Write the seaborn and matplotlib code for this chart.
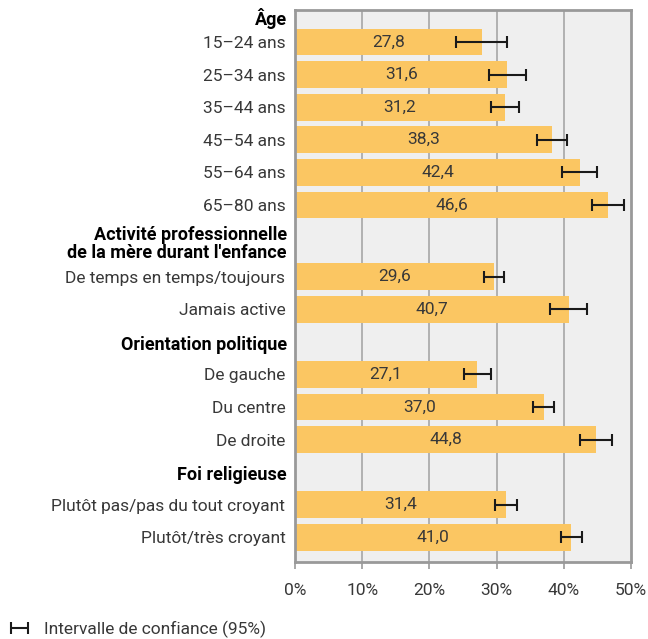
import numpy as np
import pandas as pd
import matplotlib
matplotlib.use('Agg')
import matplotlib.pyplot as plt
import matplotlib.transforms as mtransforms
import seaborn as sns

# data
groups = ['Âge',
          'Activité professionnelle\nde la mère durant l\'enfance',
          'Orientation politique',
          'Foi religieuse']
labels = [
    ['15–24 ans', '25–34 ans', '35–44 ans', '45–54 ans', '55–64 ans', '65–80 ans'],
    ['De temps en temps/toujours', 'Jamais active'],
    ['De gauche', 'Du centre', 'De droite'],
    ['Plutôt pas/pas du tout croyant', 'Plutôt/très croyant'],
]
values = [
    [27.8, 31.6, 31.2, 38.3, 42.4, 46.6],
    [29.6, 40.7],
    [27.1, 37.0, 44.8],
    [31.4, 41.0],
]
ci_low = [
    [24.0, 28.8, 29.1, 36.0, 39.8, 44.2],
    [28.1, 37.9],
    [25.1, 35.4, 42.4],
    [29.8, 39.6],
]
ci_high = [
    [31.5, 34.4, 33.3, 40.5, 45.0, 49.0],
    [31.1, 43.4],
    [29.1, 38.6, 47.2],
    [33.1, 42.7],
]
xticks = [0, 10, 20, 30, 40, 50]
legend_label = 'Intervalle de confiance (95%)'

# layout of rows (header rows + bar rows)
rows = []
header_pos = []
pos = 1.0
for gi, (g, labs, vals, lo, hi) in enumerate(zip(groups, labels, values, ci_low, ci_high)):
    extra = 0.1 * g.count('\n')
    if gi == 0:
        header_pos.append(0.28)
    else:
        header_pos.append(pos + 0.1 + extra)
        pos += 1.0 + 2 * extra
    for lab, v, l, h in zip(labs, vals, lo, hi):
        rows.append({'pos': round(pos, 3), 'label': lab, 'value': v, 'lo': l, 'hi': h})
        pos += 1.0
df = pd.DataFrame(rows)
ymax = df['pos'].max() + 0.76

sns.set_style('white')
plt.rcParams['font.family'] = ['Roboto', 'DejaVu Sans']
txt = '#383838'

fig = plt.figure(figsize=(6.48, 6.39), dpi=100)
ax = fig.add_axes([295 / 648, 1 - 562 / 639, 336 / 648, 552.5 / 639])
ax.set_facecolor('#efefef')

for x in xticks[1:-1]:
    ax.axvline(x, color='#a6a6a6', lw=1.2, zorder=0)

sns.barplot(data=df, x='value', y='pos', orient='y', native_scale=True,
            width=0.82, color='#fbc662', saturation=1, errorbar=None,
            linewidth=0, edgecolor='none', ax=ax, zorder=2)

eb = ax.errorbar(df['value'], df['pos'],
                 xerr=[df['value'] - df['lo'], df['hi'] - df['value']],
                 fmt='none', ecolor='#1a1a1a', elinewidth=1.5, capsize=4.5,
                 capthick=1.5, zorder=3)

for _, r in df.iterrows():
    ax.text(r['value'] / 2, r['pos'], f"{r['value']:.1f}".replace('.', ','),
            ha='center', va='center', fontsize=12.5, color=txt, zorder=4)

ax.set_xlim(0, 50)
ax.set_ylim(ymax, 0)
ax.set_xticks(xticks)
ax.set_xticklabels([f'{t}%' for t in xticks], fontsize=12.5, color=txt)
ax.set_yticks(df['pos'])
ax.set_yticklabels(df['label'], fontsize=12.5, color=txt)
ax.tick_params(axis='y', length=0, pad=7)
ax.tick_params(axis='x', length=5, width=1.2, color='#999999', pad=10, bottom=True)
ax.set_xlabel('')
ax.set_ylabel('')

trans = mtransforms.blended_transform_factory(ax.transAxes, ax.transData)
for g, hp in zip(groups, header_pos):
    ax.text(-0.024, hp, g, transform=trans, ha='right', va='center',
            fontsize=13, fontweight='bold', color='black', linespacing=1.0)

for s in ax.spines.values():
    s.set_visible(True)
    s.set_color('#999999')
    s.set_linewidth(2)

fig.legend(handles=[eb], labels=[legend_label], loc='lower left',
           bbox_to_anchor=(-0.001, -0.012), frameon=False, borderaxespad=0.3,
           borderpad=0.2, handlelength=1.3, handletextpad=0.8,
           prop={'size': 12.5}, labelcolor=txt)

fig.savefig('out.png', dpi=100)
plt.close()
